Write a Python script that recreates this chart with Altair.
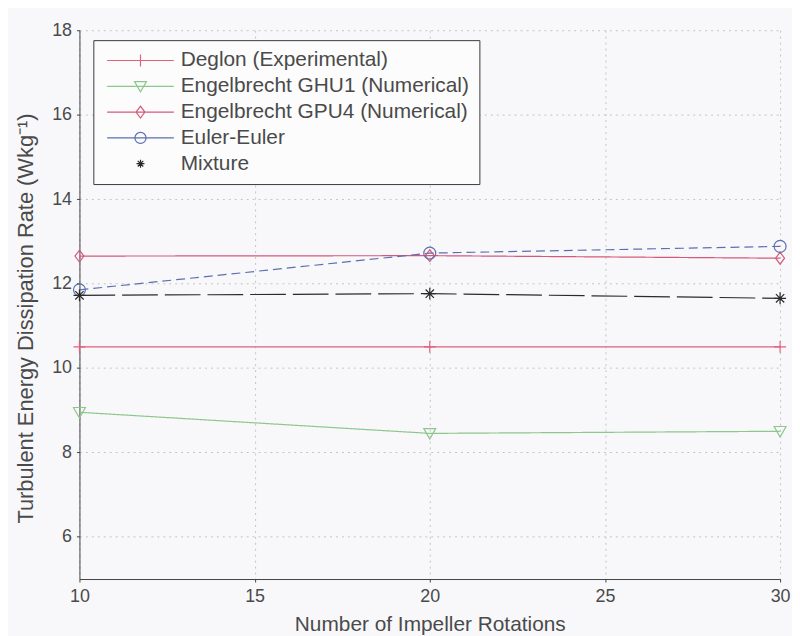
import altair as alt
import pandas as pd

# ---- data ----
x_rotations = [10, 20, 30]
series_names = [
    "Deglon (Experimental)",
    "Engelbrecht GHU1 (Numerical)",
    "Engelbrecht GPU4 (Numerical)",
    "Euler-Euler",
    "Mixture",
]
deglon = [10.5, 10.5, 10.5]
ghu1 = [8.95, 8.45, 8.5]
gpu4 = [12.65, 12.66, 12.6]
euler = [11.85, 12.72, 12.88]
mixture = [11.72, 11.76, 11.65]
x_ticks = [10, 15, 20, 25, 30]
y_ticks = [6, 8, 10, 12, 14, 16, 18]

# ---- styles ----
colors = ["#e0607e", "#8cc78c", "#d6587a", "#5a70b0", "#2a2a2a"]
dashes = [[1, 0], [1, 0], [1, 0], [9, 5], [36, 7]]
marker_paths = [
    "M-1,0H1M0,-1V1",
    "M-1,-0.8L1,-0.8L0,0.95Z",
    "M0,-1L0.75,0L0,1L-0.75,0Z",
    "M1,0A1,1,0,1,1,-1,0A1,1,0,1,1,1,0Z",
    "M-1,0H1M0,-1V1M-0.7,-0.7L0.7,0.7M-0.7,0.7L0.7,-0.7",
]
legend_paths = [
    "M-4.2,0H4.2M0,-0.75V0.75",
    "M-4.2,0H4.2M-0.75,-0.6L0.75,-0.6L0,0.7Z",
    "M-4.2,0H4.2M0,-0.75L0.56,0L0,0.75L-0.56,0Z",
    "M-4.2,0H4.2M0.7,0A0.7,0.7,0,1,1,-0.7,0A0.7,0.7,0,1,1,0.7,0Z",
    "M-0.5,0H0.5M0,-0.5V0.5M-0.35,-0.35L0.35,0.35M-0.35,0.35L0.35,-0.35",
]

values = [deglon, ghu1, gpu4, euler, mixture]
rows = []
for name, vals in zip(series_names, values):
    for xv, yv in zip(x_rotations, vals):
        rows.append({"series": name, "x": xv, "y": yv})
df = pd.DataFrame(rows)

FONT = "Liberation Sans"
TXT = "#4a4a4a"

x_enc = alt.X(
    "x:Q",
    scale=alt.Scale(domain=[10, 30], nice=False, zero=False),
    axis=alt.Axis(
        values=x_ticks,
        title="Number of Impeller Rotations",
        titleX=353,
        titleY=52,
        titleAlign="center",
        titleBaseline="alphabetic",
        labelPadding=6,
        labelFlush=False,
    ),
)
y_enc = alt.Y(
    "y:Q",
    scale=alt.Scale(domain=[5, 18], nice=False, zero=False),
    axis=alt.Axis(
        values=y_ticks,
        title="Turbulent Energy Dissipation Rate (Wkg⁻¹)",
        titleX=-47,
        titleY=290,
        titleAngle=270,
        titleAlign="center",
        titleBaseline="alphabetic",
        titleFontSize=22,
        labelPadding=5,
        labelFlush=False,
    ),
)

base = alt.Chart(df)
layers = []
for i, name in enumerate(series_names):
    sub = base.transform_filter(alt.datum.series == name)
    layers.append(
        sub.mark_line(color=colors[i], strokeDash=dashes[i], strokeWidth=1.2).encode(
            x=x_enc, y=y_enc
        )
    )
for i, name in enumerate(series_names):
    sub = base.transform_filter(alt.datum.series == name)
    layers.append(
        sub.mark_point(
            shape=marker_paths[i], filled=False, size=144, color=colors[i],
            strokeWidth=1.2, opacity=1,
        ).encode(x=x_enc, y=y_enc)
    )

leg = alt.Legend(
    title=None,
    orient="none",
    legendX=14,
    legendY=10,
    strokeColor="#3a3a3a",
    fillColor="#fcfcfc",
    padding=10,
    labelFont=FONT,
    labelFontSize=21,
    labelColor=TXT,
    labelLimit=500,
    symbolSize=256,
    symbolStrokeWidth=1.2,
    symbolOffset=27,
    labelOffset=30,
    rowPadding=4,
    symbolOpacity=1,
)
legend_layer = base.mark_point(filled=False, opacity=0, size=256).encode(
    x=x_enc,
    y=y_enc,
    color=alt.Color("series:N", scale=alt.Scale(domain=series_names, range=colors), legend=leg),
    shape=alt.Shape("series:N", scale=alt.Scale(domain=series_names, range=legend_paths), legend=leg),
)
layers.append(legend_layer)

chart = (
    alt.layer(*layers)
    .properties(
        width=706,
        height=553,
        autosize=alt.AutoSizeParams(type="none"),
        padding={"left": 72, "top": 20, "right": 12, "bottom": 55},
        background="#f8f8fa",
    )
    .configure_view(stroke=None)
    .configure_axis(
        labelFont=FONT,
        labelFontSize=18,
        labelColor=TXT,
        titleFont=FONT,
        titleFontSize=21,
        titleFontWeight="normal",
        titleColor=TXT,
        domainColor="#444444",
        domainWidth=1,
        tickColor="#444444",
        tickSize=3,
        gridColor="#c4c4c4",
        gridDash=[2, 4],
        gridWidth=1,
    )
)

chart.save("out.html", embed_options={"renderer": "svg", "actions": False})
